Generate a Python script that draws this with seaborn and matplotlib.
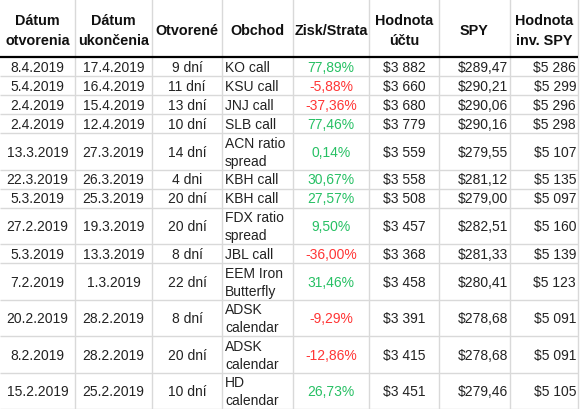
import numpy as np
import matplotlib
matplotlib.use("Agg")
import matplotlib.pyplot as plt
import seaborn as sns

# table data
headers = ["Dátum\notvorenia", "Dátum\nukončenia", "Otvorené", "Obchod",
           "Zisk/Strata", "Hodnota\núčtu", "SPY", "Hodnota\ninv. SPY"]
opened = ["8.4.2019", "5.4.2019", "2.4.2019", "2.4.2019", "13.3.2019", "22.3.2019", "5.3.2019",
          "27.2.2019", "5.3.2019", "7.2.2019", "20.2.2019", "8.2.2019", "15.2.2019"]
closed = ["17.4.2019", "16.4.2019", "15.4.2019", "12.4.2019", "27.3.2019", "26.3.2019", "25.3.2019",
          "19.3.2019", "13.3.2019", "1.3.2019", "28.2.2019", "28.2.2019", "25.2.2019"]
days = [9, 11, 13, 10, 14, 4, 20, 20, 8, 22, 8, 20, 10]
trades = ["KO call", "KSU call", "JNJ call", "SLB call", "ACN ratio\nspread", "KBH call", "KBH call",
          "FDX ratio\nspread", "JBL call", "EEM Iron\nButterfly", "ADSK\ncalendar", "ADSK\ncalendar",
          "HD\ncalendar"]
pnl = [77.89, -5.88, -37.36, 77.46, 0.14, 30.67, 27.57, 9.50, -36.00, 31.46, -9.29, -12.86, 26.73]
account = [3882, 3660, 3680, 3779, 3559, 3558, 3508, 3457, 3368, 3458, 3391, 3415, 3451]
spy = [289.47, 290.21, 290.06, 290.16, 279.55, 281.12, 279.00, 282.51, 281.33, 280.41,
       278.68, 278.68, 279.46]
spy_inv = [5286, 5299, 5296, 5298, 5107, 5135, 5097, 5160, 5139, 5123, 5091, 5091, 5105]

sns.set_theme(style="white")
plt.rcParams['font.family'] = ['Liberation Sans', 'DejaVu Sans']

def thousands(v):
    return "$" + f"{v:,}".replace(",", " ")

def day_label(d):
    return f"{d} dni" if 2 <= d <= 4 else f"{d} dní"

cols = [opened, closed, [day_label(d) for d in days], trades,
        [f"{v:.2f}%".replace(".", ",") for v in pnl],
        [thousands(v) for v in account],
        ["$" + f"{v:.2f}".replace(".", ",") for v in spy],
        [thousands(v) for v in spy_inv]]

# layout (pixels)
col_edges = [0, 75, 152, 222, 293, 369, 439, 510, 578]
align = ["center", "center", "center", "left", "center", "center", "right", "right"]
header_h = 58
single_h, double_h = 19, 36.5
row_h = [double_h if "\n" in t else single_h for t in trades]
row_edges = np.concatenate([[header_h], header_h + np.cumsum(row_h)])

fig = plt.figure(figsize=(5.8, 4.1), dpi=100)
ax = fig.add_axes([0, 0, 1, 1])
ax.set_xlim(0, 580)
ax.set_ylim(410, 0)
ax.axis("off")

grid = "#d9d9d9"
for x in col_edges[1:]:
    ax.vlines(x, 0, row_edges[-1], color=grid, lw=1)
for y in row_edges[1:]:
    ax.hlines(y, 0, col_edges[-1], color=grid, lw=1)
ax.hlines(header_h, 0, col_edges[-1], color="black", lw=1.6)

for j, h in enumerate(headers):
    xc = (col_edges[j] + col_edges[j + 1]) / 2
    ax.text(xc, header_h / 2 + 2, h, ha="center", va="center", fontsize=10.4,
            fontweight="bold", color="#111111", linespacing=1.5)

for j, col in enumerate(cols):
    for i, val in enumerate(col):
        yc = (row_edges[i] + row_edges[i + 1]) / 2 + 0.5
        if align[j] == "center":
            x, ha = (col_edges[j] + col_edges[j + 1]) / 2, "center"
        elif align[j] == "left":
            x, ha = col_edges[j] + 3, "left"
        else:
            x, ha = col_edges[j + 1] - 2, "right"
        color = "#222222"
        if j == 4:
            color = "#27c064" if pnl[i] >= 0 else "#ff3535"
        ax.text(x, yc, val, ha=ha, va="center", fontsize=10, color=color, linespacing=1.35)

fig.savefig("out.png", dpi=100)
